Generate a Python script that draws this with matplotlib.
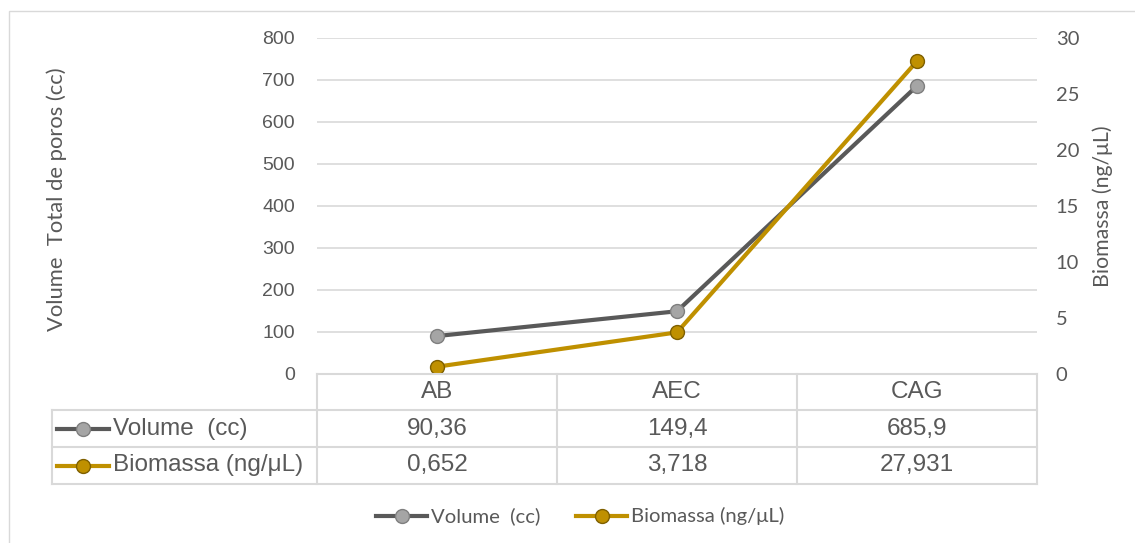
import matplotlib
matplotlib.use("Agg")
import matplotlib.pyplot as plt
from matplotlib.lines import Line2D

categories = ["AB", "AEC", "CAG"]
volume = [90.36, 149.4, 685.9]
biomassa = [0.652, 3.718, 27.931]
volume_labels = ["90,36", "149,4", "685,9"]
biomassa_labels = ["0,652", "3,718", "27,931"]
series_names = ["Volume  (cc)", "Biomassa (ng/μL)"]
left_ticks = [0, 100, 200, 300, 400, 500, 600, 700, 800]
right_ticks = [0, 5, 10, 15, 20, 25, 30]

W, H = 1135, 543
fig = plt.figure(figsize=(W / 100, H / 100), dpi=100)

def fx(px):
    return px / W

def fy(py):
    return 1 - py / H

TEXT = "#595959"
GRID = "#d9d9d9"
VOL_LINE, VOL_FACE, VOL_EDGE = "#595959", "#a5a5a5", "#7f7f7f"
BIO_LINE, BIO_FACE, BIO_EDGE = "#bf9000", "#bf9000", "#7f6000"
SANS = ["Liberation Sans", "DejaVu Sans"]
CAL = ["Lato", "DejaVu Sans"]
LW, MS = 3.0, 10

# chart frame
fig.patches.append(plt.Rectangle((fx(9), fy(548)), fx(1135), fy(11) - fy(548),
                                 transform=fig.transFigure, fill=False,
                                 edgecolor=GRID, lw=1))

px_left, px_right, px_top, px_bottom = 317, 1037, 38, 374
ax = fig.add_axes([fx(px_left), fy(px_bottom), fx(px_right - px_left), fy(px_top) - fy(px_bottom)])
ax2 = ax.twinx()

x = list(range(len(categories)))
ax.set_xlim(-0.5, len(categories) - 0.5)
ax.set_ylim(0, 800)
ax2.set_ylim(0, 30)
ax.set_yticks(left_ticks)
ax2.set_yticks(right_ticks)
ax.set_xticks([])
ax.grid(axis="y", color=GRID, lw=1.2)
ax.set_axisbelow(True)
for a in (ax, ax2):
    for s in a.spines.values():
        s.set_visible(False)
ax.tick_params(axis="y", length=0, pad=16, labelsize=14, labelcolor=TEXT)
for lab in ax.get_yticklabels():
    lab.set_family(SANS)
ax2.tick_params(axis="y", length=0, pad=13.5, labelsize=14.5, labelcolor=TEXT)
for lab in ax2.get_yticklabels():
    lab.set_family(CAL)

ax.plot(x, volume, color=VOL_LINE, lw=LW, marker="o", ms=MS,
        mfc=VOL_FACE, mec=VOL_EDGE, mew=1, zorder=3)
ax2.plot(x, biomassa, color=BIO_LINE, lw=LW, marker="o", ms=MS,
         mfc=BIO_FACE, mec=BIO_EDGE, mew=1, zorder=3)

fig.text(fx(57), fy(199), "Volume  Total de poros (cc)", rotation=90,
         ha="center", va="center", fontsize=15.8, color=TEXT, family=CAL)
fig.text(fx(1103), fy(206), "Biomassa (ng/μL)", rotation=90,
         ha="center", va="center", fontsize=15.3, color=TEXT, family=CAL)

# data table beneath the plot
tab_left = 52
row_edges = [374, 410, 447, 484]
col_edges = [px_left + i * (px_right - px_left) / len(categories) for i in range(len(categories) + 1)]

def hline(y0, x0, x1):
    fig.add_artist(Line2D([fx(x0), fx(x1)], [fy(y0), fy(y0)], color=GRID, lw=1.5))

def vline(xp, y0, y1):
    fig.add_artist(Line2D([fx(xp), fx(xp)], [fy(y0), fy(y1)], color=GRID, lw=1.5))

hline(row_edges[0], px_left, px_right)
for ye in row_edges[1:]:
    hline(ye, tab_left, px_right)
vline(tab_left, row_edges[1], row_edges[3])
for xe in col_edges:
    vline(xe, row_edges[0], row_edges[3])

def center_y(i):
    return fy((row_edges[i] + row_edges[i + 1]) / 2)

TS = 17.5
for i, c in enumerate(categories):
    xc = fx(ax.transData.transform((x[i], 0))[0])
    fig.text(xc, center_y(0), c, ha="center", va="center", fontsize=TS,
             color=TEXT, family=SANS)
    fig.text(xc, center_y(1), volume_labels[i], ha="center", va="center",
             fontsize=TS, color=TEXT, family=SANS)
    fig.text(xc, center_y(2), biomassa_labels[i], ha="center", va="center",
             fontsize=TS, color=TEXT, family=SANS)

styles = [(VOL_LINE, VOL_FACE, VOL_EDGE), (BIO_LINE, BIO_FACE, BIO_EDGE)]

def key(x0, x1, yc, lc, fc, ec):
    fig.add_artist(Line2D([fx(x0), fx(x1)], [yc, yc], color=lc, lw=LW))
    fig.add_artist(Line2D([fx((x0 + x1) / 2)], [yc], marker="o", ms=MS, mfc=fc,
                          mec=ec, mew=1, color=lc))

for r, (name, (lc, fc, ec)) in enumerate(zip(series_names, styles)):
    yc = center_y(r + 1)
    key(57, 109, yc, lc, fc, ec)
    fig.text(fx(113), yc, name, ha="left", va="center", fontsize=TS,
             color=TEXT, family=SANS)

# legend at the bottom
leg_y = fy(516)
for (k0, k1, tx), name, (lc, fc, ec) in zip([(376, 427, 431), (576, 627, 631)],
                                            series_names, styles):
    key(k0, k1, leg_y, lc, fc, ec)
    fig.text(fx(tx), leg_y, name, ha="left", va="center", fontsize=14.6,
             color=TEXT, family=CAL)

fig.savefig("out.png", dpi=100, facecolor="white")
